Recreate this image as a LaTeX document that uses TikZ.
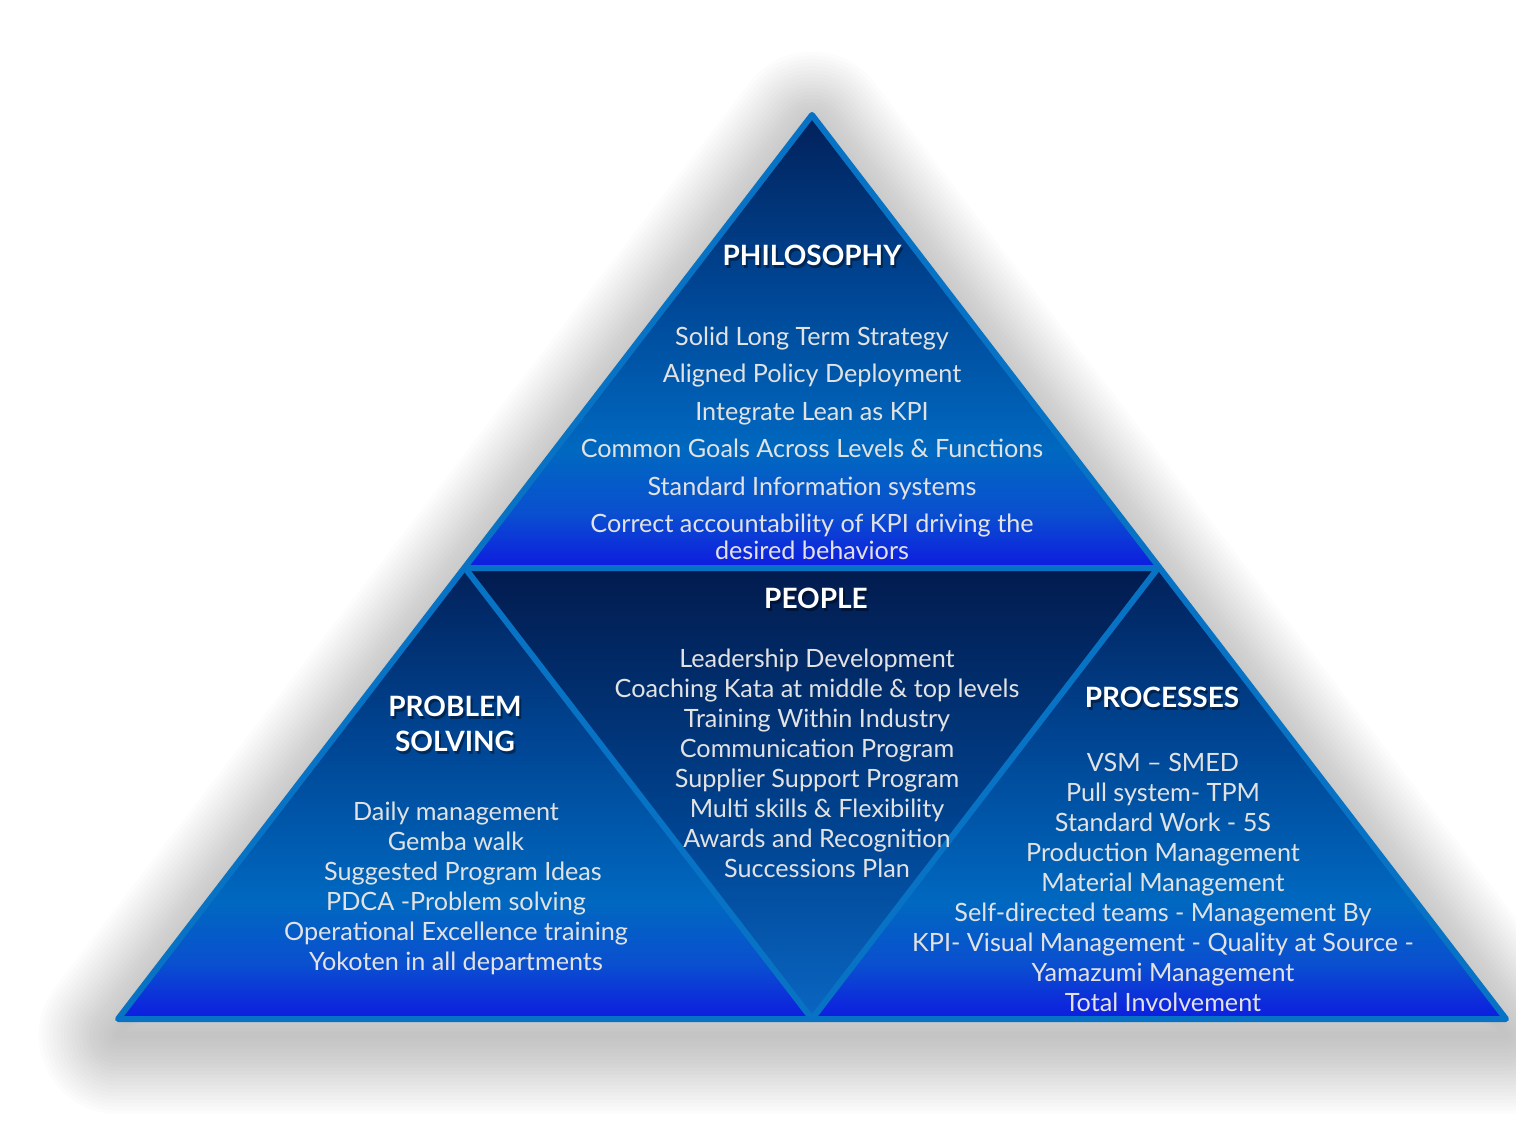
\documentclass[tikz,border=0pt]{standalone}
\usepackage{fontspec}
\setmainfont{Lato}
\definecolor{navy}{HTML}{02215A}
\definecolor{midA}{HTML}{004593}
\definecolor{midB}{HTML}{0068C0}
\definecolor{midC}{HTML}{0A4FD0}
\definecolor{brightb}{HTML}{0E1BE0}
\definecolor{innerTop}{HTML}{021B4E}
\definecolor{innerBot}{HTML}{0A66C2}
\definecolor{edgeblue}{HTML}{0873C4}
\definecolor{txt}{HTML}{E2E2E2}
\pgfdeclareverticalshading{triShade}{100bp}{color(0bp)=(brightb); color(25bp)=(brightb); color(31bp)=(midC); color(38bp)=(midB); color(56bp)=(midA); color(75bp)=(navy); color(100bp)=(navy)}
\pgfdeclareverticalshading{invShade}{100bp}{color(0bp)=(innerBot); color(25bp)=(innerBot); color(45bp)=(midA); color(75bp)=(innerTop); color(100bp)=(innerTop)}
\tikzset{
  listtext/.style={text=txt, anchor=base, inner sep=0pt, font=\fontsize{12.6}{13.5}\selectfont},
  headtext/.style={text=white, anchor=base, inner sep=0pt, font=\fontsize{14}{15}\selectfont\bfseries},
  headshadow/.style={text=black, opacity=0.4, anchor=base, inner sep=0pt, font=\fontsize{14}{15}\selectfont\bfseries},
  edgeline/.style={draw=edgeblue, line width=3pt, line join=round, line cap=round}
}
\begin{document}
\begin{tikzpicture}[x=0.5pt, y=-0.5pt]
\useasboundingbox (0,0) rectangle (1516,1134);
% corner coordinates
\coordinate (apex) at (812,115);
\coordinate (ml) at (465,568);
\coordinate (mr) at (1158,568);
\coordinate (bl) at (118,1019);
\coordinate (bm) at (812,1019);
\coordinate (br) at (1506,1019);
% soft shadow
\foreach \i in {1,...,22}{
  \draw[black, opacity=0.011, line width=\i*3.6pt, line join=round]
    ([yshift=-8pt]apex) -- ([yshift=-8pt]bl) -- ([yshift=-8pt]br) -- cycle;
}
% fills
\shade[shading=triShade] (apex) -- (ml) -- (mr) -- cycle;
\shade[shading=triShade] (ml) -- (bl) -- (bm) -- cycle;
\shade[shading=triShade] (mr) -- (bm) -- (br) -- cycle;
\shade[shading=invShade] (ml) -- (mr) -- (bm) -- cycle;
% edges
\draw[edgeline] (apex) -- (bl) -- (br) -- cycle;
\draw[edgeline] (ml) -- (mr) -- (bm) -- cycle;
% headings
\foreach \nm/\x/\y/\t in {hph/812/266/PHILOSOPHY, hpe/816/608/PEOPLE, hpr1/455/716/PROBLEM, hpr2/455/751/SOLVING, hpc/1162/707/PROCESSES}{
  \node[headshadow] at (\x+2,\y+3) {\t};
  \node[headtext] (\nm) at (\x,\y) {\t};
}
% philosophy list
\node[listtext] (ph1) at (812,345) {Solid Long Term Strategy};
\node[listtext] (ph2) at (812,382) {Aligned Policy Deployment};
\node[listtext] (ph3) at (812,420) {Integrate Lean as KPI};
\node[listtext] (ph4) at (812,457) {Common Goals Across Levels \& Functions};
\node[listtext] (ph5) at (812,495) {Standard Information systems};
\node[listtext] (ph6) at (812,532) {Correct accountability of KPI driving the};
\node[listtext] (ph7) at (812,559) {desired behaviors};
% people list
\foreach \nm/\y/\t in {pe1/667/Leadership Development, pe2/697/Coaching Kata at middle \& top levels, pe3/727/Training Within Industry, pe4/757/Communication Program, pe5/787/Supplier Support Program, pe6/817/Multi skills \& Flexibility, pe7/847/Awards and Recognition, pe8/877/Successions Plan}{
  \node[listtext] (\nm) at (817,\y) {\t};
}
% problem solving list
\foreach \nm/\x/\y/\t in {ps1/456/820/Daily management, ps2/456/850/Gemba walk, ps3/463/880/Suggested Program Ideas, ps4/456/910/PDCA -Problem solving, ps5/456/940/Operational Excellence training, ps6/456/970/Yokoten in all departments}{
  \node[listtext] (\nm) at (\x,\y) {\t};
}
% processes list
\foreach \nm/\y/\t in {pc1/771/VSM -- SMED, pc2/801/Pull system- TPM, pc3/831/Standard Work - 5S, pc4/861/Production Management, pc5/891/Material Management, pc6/921/Self-directed teams - Management By, pc7/951/KPI- Visual Management - Quality at Source -, pc8/981/Yamazumi Management, pc9/1011/Total Involvement}{
  \node[listtext] (\nm) at (1163,\y) {\t};
}
\end{tikzpicture}
\end{document}
